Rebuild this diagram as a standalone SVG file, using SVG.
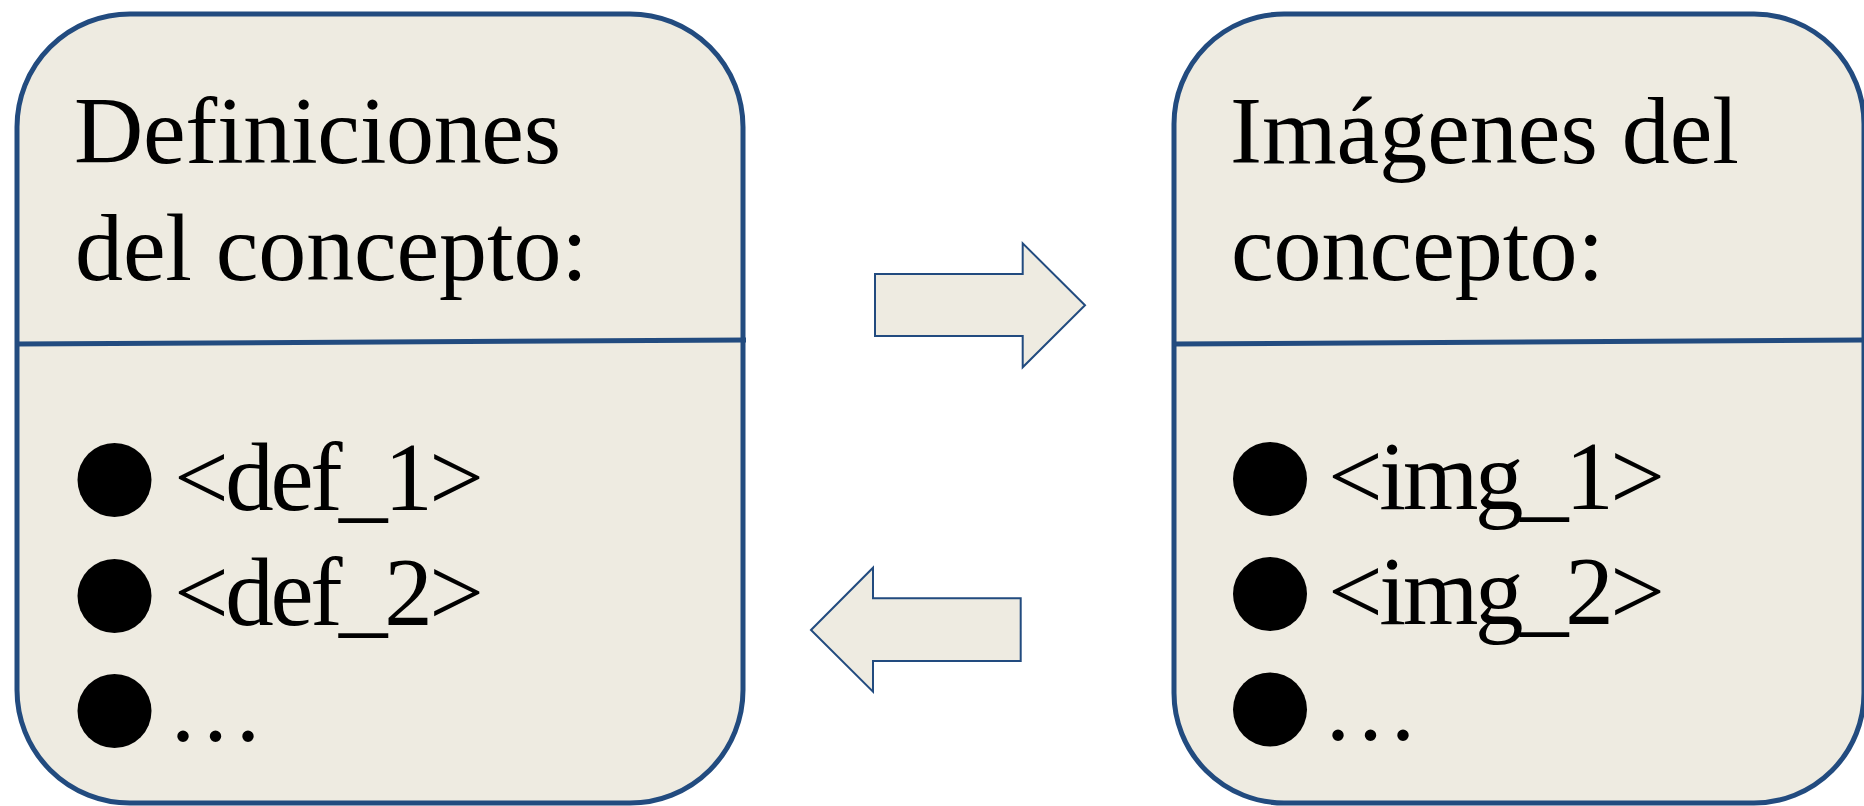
<svg xmlns="http://www.w3.org/2000/svg" width="1864" height="806" viewBox="0 0 1864 806">
  <style>
    .panel { fill: #EEEBE1; stroke: #224B7F; stroke-width: 5; }
    .rule { stroke: #224B7F; stroke-width: 5; fill: none; }
    .arrow { fill: #EEEBE1; stroke: #224B7F; stroke-width: 2; stroke-linejoin: miter; }
    .title { font-family: "Liberation Serif", "Times New Roman", serif; font-size: 96px; fill: #000; }
    .item { font-family: "Liberation Serif", "Times New Roman", serif; font-size: 97px; fill: #000; }
    .dot { fill: #000; }
  </style>
  <rect width="1864" height="806" fill="#FFFFFF"/>

  <!-- Left panel: definitions -->
  <g id="definiciones">
    <rect class="panel" x="17" y="14" width="726" height="789" rx="113" ry="113"/>
    <line class="rule" x1="17" y1="344" x2="746" y2="340"/>
    <text class="title" x="74" y="163" textLength="487">Definiciones</text>
    <text class="title" x="75" y="280" textLength="513">del concepto:</text>
    <circle class="dot" cx="114.5" cy="480" r="37"/>
    <circle class="dot" cx="114.5" cy="596" r="37"/>
    <circle class="dot" cx="114.5" cy="711" r="37"/>
    <text class="item" x="174" y="510" textLength="310">&lt;def_1&gt;</text>
    <text class="item" x="174" y="625" textLength="310">&lt;def_2&gt;</text>
    <text class="item" x="167" y="741">…</text>
  </g>

  <!-- Right panel: images -->
  <g id="imagenes">
    <rect class="panel" x="1174" y="14" width="690" height="789" rx="110" ry="110"/>
    <line class="rule" x1="1174" y1="344" x2="1866" y2="340"/>
    <text class="title" x="1230" y="163" textLength="509">Imágenes del</text>
    <text class="title" x="1231" y="280">concepto:</text>
    <circle class="dot" cx="1270" cy="479" r="37"/>
    <circle class="dot" cx="1270" cy="594" r="37"/>
    <circle class="dot" cx="1270" cy="709.5" r="37"/>
    <text class="item" x="1328" y="509" textLength="337">&lt;img_1&gt;</text>
    <text class="item" x="1328" y="624" textLength="337">&lt;img_2&gt;</text>
    <text class="item" x="1322" y="740">…</text>
  </g>

  <!-- Block arrows between the panels -->
  <g id="connectors">
    <polygon class="arrow" points="875,274 1022.7,274 1022.7,243.3 1085,305.3 1022.7,367.3 1022.7,336 875,336"/>
    <polygon class="arrow" points="811,630 873,567.7 873,598.3 1020.7,598.3 1020.7,661 873,661 873,691.7"/>
  </g>
</svg>
